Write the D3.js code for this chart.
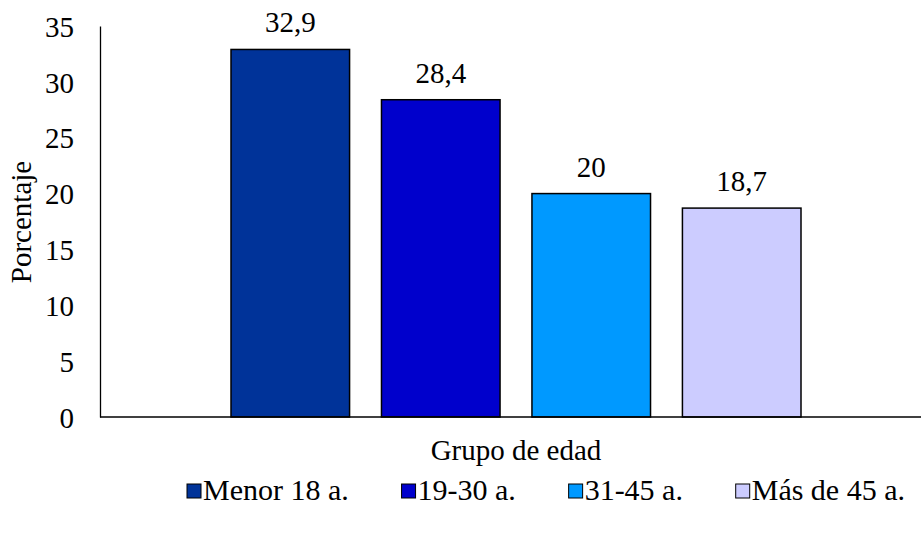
<!DOCTYPE html>
<html><head><meta charset="utf-8">
<script src="https://cdn.jsdelivr.net/npm/d3@7"></script>
<style>body{margin:0;background:#fff}svg{display:block}</style>
</head><body><svg id="c" width="921" height="533"></svg>
<script>
const series = ["Menor 18 a.", "19-30 a.", "31-45 a.", "Más de 45 a."];
const values = [32.9, 28.4, 20, 18.7];
const valueLabels = ["32,9", "28,4", "20", "18,7"];
const colors = ["#003399", "#0000CC", "#0099FF", "#CCCCFF"];
const yTicks = [0, 5, 10, 15, 20, 25, 30, 35];
const category = "Grupo de edad";
const yTitle = "Porcentaje";

const FONT = '"Liberation Serif", "Times New Roman", Tinos, "DejaVu Serif", serif';
const FS = 29;
const svg = d3.select("#c").style("font-family", FONT);
const x0 = 100, yBottom = 417, yTop = 26;
const y = d3.scaleLinear().domain([0, 35]).range([yBottom, yTop]);
const x = d3.scaleBand().domain(series).range([231, 801]).paddingInner(0.212).paddingOuter(0);

// bars
svg.selectAll("rect.bar").data(series).join("rect")
  .attr("x", d => x(d)).attr("width", x.bandwidth())
  .attr("y", (d,i) => y(values[i])).attr("height", (d,i) => y(0) - y(values[i]))
  .attr("fill", (d,i) => colors[i]).attr("stroke", "#000").attr("stroke-width", 1.5);

// value labels
svg.selectAll("text.val").data(series).join("text")
  .attr("x", d => x(d) + x.bandwidth()/2).attr("y", (d,i) => y(values[i]) - 17)
  .attr("text-anchor", "middle").attr("font-family", FONT).attr("font-size", FS).text((d,i) => valueLabels[i]);

// y axis
const yAxis = d3.axisLeft(y).tickValues(yTicks).tickSize(0).tickPadding(26);
const gy = svg.append("g").attr("transform", `translate(${x0},0)`).call(yAxis)
  .attr("font-family", FONT).attr("font-size", FS);
gy.select(".domain").attr("stroke", "#000").attr("stroke-width", 1.3);
gy.selectAll("text").attr("fill", "#000").attr("dy", "0.35em");

// x axis line
svg.append("line").attr("x1", x0).attr("x2", 921).attr("y1", yBottom).attr("y2", yBottom)
  .attr("stroke", "#000").attr("stroke-width", 1.3);

// titles
svg.append("text").attr("x", 516).attr("y", 460).attr("text-anchor", "middle")
  .attr("font-family", FONT).attr("font-size", FS).text(category);
svg.append("text").attr("transform", "translate(31,222) rotate(-90)").attr("text-anchor", "middle")
  .attr("font-family", FONT).attr("font-size", FS).text(yTitle);

// legend
const lg = svg.append("g");
const items = lg.selectAll("g").data(series).join("g");
items.append("rect").attr("width", 14).attr("height", 14).attr("y", -16)
  .attr("fill", (d,i) => colors[i]).attr("stroke", "#000").attr("stroke-width", 1);
items.append("text").attr("x", 16).attr("font-family", FONT).attr("font-size", 30).text(d => d);
const widths = items.nodes().map(n => n.getBBox().width);
const left = 187, right = 905;
const gap = (right - left - d3.sum(widths)) / (series.length - 1);
let cx = left;
items.attr("transform", (d,i) => { const t = `translate(${cx},500)`; cx += widths[i] + gap; return t; });
</script></body></html>
